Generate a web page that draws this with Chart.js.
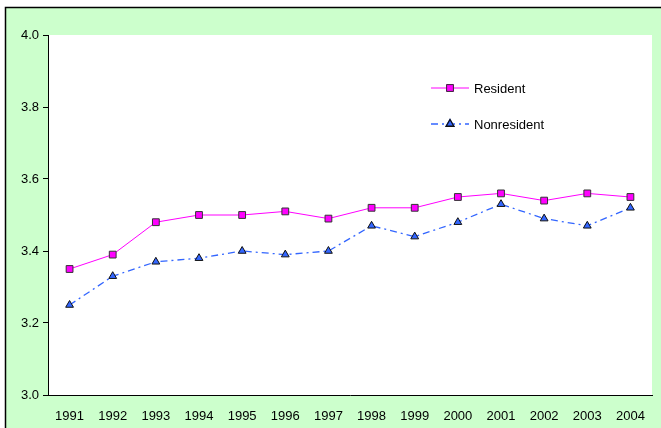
<!DOCTYPE html>
<html>
<head>
<meta charset="utf-8">
<script src="https://cdn.jsdelivr.net/npm/chart.js@4/dist/chart.umd.min.js"></script>
<style>
  html, body { margin: 0; padding: 0; background: #fff; }
  #wrap { position: relative; width: 661px; height: 428px; }
</style>
</head>
<body>
<div id="wrap"><canvas id="chartCanvas" width="661" height="428"></canvas></div>
<script>
const years = ['1991', '1992', '1993', '1994', '1995', '1996', '1997', '1998', '1999', '2000', '2001', '2002', '2003', '2004'];
const resident = [3.35, 3.39, 3.48, 3.50, 3.50, 3.51, 3.49, 3.52, 3.52, 3.55, 3.56, 3.54, 3.56, 3.55];
const nonresident = [3.25, 3.33, 3.37, 3.38, 3.40, 3.39, 3.40, 3.47, 3.44, 3.48, 3.53, 3.49, 3.47, 3.52];
const yTicks = [3.0, 3.2, 3.4, 3.6, 3.8, 4.0];

const FONT = '"Liberation Sans", Arial, sans-serif';

// green panel with black top/left edge, white plot area
const background = {
    id: 'background',
    beforeDraw(chart) {
        const { ctx, chartArea: a } = chart;
        ctx.save();
        ctx.fillStyle = '#fff';
        ctx.fillRect(0, 0, chart.width, chart.height);
        ctx.fillStyle = '#CCFFCC';
        ctx.fillRect(5, 7, chart.width, chart.height);
        ctx.strokeStyle = '#000';
        ctx.lineWidth = 1.5;
        ctx.beginPath();
        ctx.moveTo(5.5, chart.height);
        ctx.lineTo(5.5, 7.5);
        ctx.lineTo(chart.width, 7.5);
        ctx.stroke();
        ctx.fillStyle = '#fff';
        ctx.fillRect(a.left, a.top, a.right - a.left, a.bottom - a.top);
        ctx.restore();
    }
};

// legend drawn inside the plot area
const insideLegend = {
    id: 'insideLegend',
    afterDatasetsDraw(chart) {
        const { ctx } = chart;
        const rows = [88, 124];
        chart.data.datasets.forEach((ds, i) => {
            const y = rows[i];
            ctx.save();
            ctx.strokeStyle = ds.borderColor;
            ctx.lineWidth = ds.borderWidth;
            ctx.setLineDash(ds.borderDash || []);
            ctx.beginPath();
            ctx.moveTo(431, y);
            ctx.lineTo(469, y);
            ctx.stroke();
            ctx.setLineDash([]);
            Chart.helpers.drawPoint(ctx, {
                pointStyle: ds.pointStyle,
                radius: ds.pointRadius,
                rotation: 0,
                borderWidth: 1
            }, 450, y);
            ctx.fillStyle = ds.pointBackgroundColor;
            ctx.strokeStyle = ds.pointBorderColor;
            ctx.fill();
            ctx.stroke();
            ctx.fillStyle = '#000';
            ctx.font = '13px ' + FONT;
            ctx.textBaseline = 'middle';
            ctx.fillText(ds.label, 474, y + 1);
            ctx.restore();
        });
    }
};

const chart = new Chart(document.getElementById('chartCanvas').getContext('2d'), {
    type: 'line',
    data: {
        labels: years,
        datasets: [{
            label: 'Resident',
            data: resident,
            borderColor: '#FF00FF',
            borderWidth: 1,
            pointStyle: 'rect',
            pointRadius: 4.8,
            pointBackgroundColor: '#FF00FF',
            pointBorderColor: '#333',
            pointBorderWidth: 1,
            tension: 0
        }, {
            label: 'Nonresident',
            data: nonresident,
            borderColor: '#3366FF',
            borderWidth: 1.3,
            borderDash: [7, 4, 2, 4],
            pointStyle: 'triangle',
            pointRadius: 4.5,
            pointBackgroundColor: '#3366FF',
            pointBorderColor: '#111',
            pointBorderWidth: 1,
            tension: 0
        }]
    },
    options: {
        responsive: false,
        animation: false,
        layout: { padding: { left: 0, top: 35, right: 9, bottom: 0 } },
        plugins: {
            legend: { display: false },
            tooltip: { enabled: false }
        },
        scales: {
            x: {
                offset: true,
                grid: { display: false },
                border: { display: true, color: '#000', width: 1 },
                ticks: {
                    color: '#000',
                    font: { family: FONT, size: 13 },
                    padding: 6,
                    maxRotation: 0,
                    autoSkip: false
                },
                afterFit(scale) { scale.height = 33; }
            },
            y: {
                min: 3.0,
                max: 4.0,
                grid: {
                    drawOnChartArea: false,
                    drawTicks: true,
                    tickLength: 5,
                    color: '#000'
                },
                border: { display: true, color: '#000', width: 1 },
                afterBuildTicks(scale) {
                    scale.ticks = yTicks.map(v => ({ value: v }));
                },
                ticks: {
                    color: '#000',
                    font: { family: FONT, size: 13 },
                    padding: 4,
                    callback: v => Number(v).toFixed(1)
                },
                afterFit(scale) { scale.width = 48; }
            }
        }
    },
    plugins: [background, insideLegend]
});
</script>
</body>
</html>
